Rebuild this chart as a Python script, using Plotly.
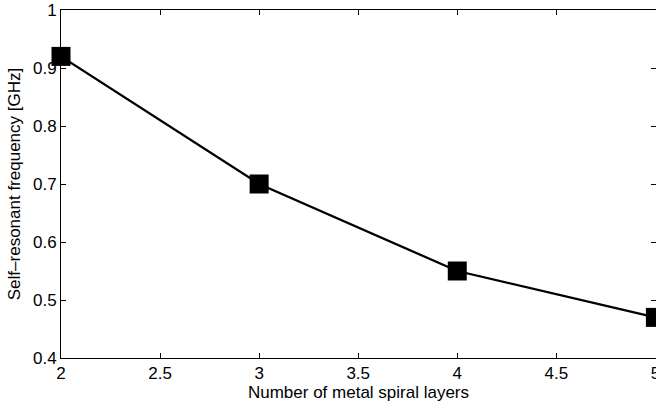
import plotly.graph_objects as go

layers = [2, 3, 4, 5]
freq_ghz = [0.92, 0.70, 0.55, 0.47]
x_ticks = [2, 2.5, 3, 3.5, 4, 4.5, 5]
y_ticks = [0.4, 0.5, 0.6, 0.7, 0.8, 0.9, 1]

FONT = "Liberation Sans, Arial, Helvetica, sans-serif"

fig = go.Figure()
fig.add_trace(go.Scatter(
    x=layers, y=freq_ghz, mode="lines+markers",
    line=dict(color="black", width=2.3),
    marker=dict(symbol="square", size=19, color="black"),
    cliponaxis=False, showlegend=False,
))

axis_common = dict(
    showline=True, linecolor="black", linewidth=1, mirror="ticks",
    ticks="inside", ticklen=5, tickcolor="black", tickwidth=1,
    showgrid=False, zeroline=False, automargin=False,
    ticklabeloverflow="allow",
    tickfont=dict(family=FONT, size=17, color="black"),
)

fig.update_layout(
    width=656, height=406,
    margin=dict(l=61, r=0, t=10, b=48),
    paper_bgcolor="white", plot_bgcolor="white",
    font=dict(family=FONT, size=17, color="black"),
    xaxis=dict(range=[2, 5.003], tickvals=x_ticks,
               ticktext=[f"{v:g}" for v in x_ticks],
               title=dict(text="Number of metal spiral layers", standoff=2,
                          font=dict(size=17)),
               **axis_common),
    yaxis=dict(range=[0.4, 1], tickvals=y_ticks,
               ticktext=[f"{v:g}" for v in y_ticks],
               title=dict(text="Self–resonant frequency [GHz]", standoff=8,
                          font=dict(size=17)),
               **axis_common),
)

fig.write_html("out.html", config={"displayModeBar": False},
               post_script="document.body.style.margin='0';")
